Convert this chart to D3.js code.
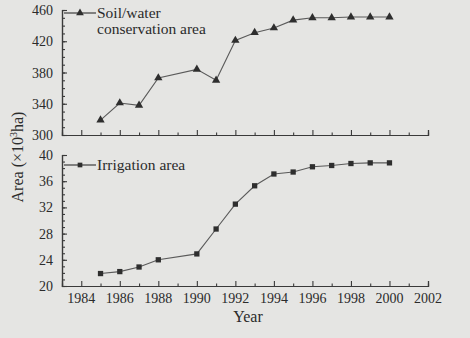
<!DOCTYPE html>
<html>
<head>
<meta charset="utf-8">
<script src="https://cdn.jsdelivr.net/npm/d3@7"></script>
<style>
  body { margin: 0; background: #e5e5e3; }
  svg { display: block; }
  text { font-family: "Liberation Serif", "DejaVu Serif", serif; fill: #2b2b2b; }
</style>
</head>
<body>
<svg id="chart"></svg>
<script>
// soil/water conservation area (10^3 ha), no point for 1989
const soilYears = [1985, 1986, 1987, 1988, 1990, 1991, 1992, 1993, 1994, 1995, 1996, 1997, 1998, 1999, 2000];
const soilValues = [319, 341, 338, 373, 384, 370, 421, 431, 437, 447, 450, 450, 451, 451, 451];

// irrigation area (10^3 ha)
const irrYears = [1985, 1986, 1987, 1988, 1990, 1991, 1992, 1993, 1994, 1995, 1996, 1997, 1998, 1999, 2000];
const irrValues = [21.9, 22.2, 22.9, 24.0, 24.9, 28.7, 32.5, 35.3, 37.1, 37.4, 38.2, 38.4, 38.7, 38.8, 38.8];

const xTicks = [1984, 1986, 1988, 1990, 1992, 1994, 1996, 1998, 2000, 2002];
const topTicks = [300, 340, 380, 420, 460];
const bottomTicks = [20, 24, 28, 32, 36, 40];

const width = 470, height = 338;
const svg = d3.select("#chart").attr("width", width).attr("height", height);

const ink = "#3a3a3a";
const x = d3.scaleLinear().domain([1983, 2002]).range([62, 428]);
const yTop = d3.scaleLinear().domain([300, 460]).range([135, 10]);
const yBot = d3.scaleLinear().domain([20, 40]).range([286, 155]);

function panel(y, ticks, minorStep, years, values, marker, showLabels) {
  const g = svg.append("g");
  // y axis, ticks inward
  const ya = d3.axisRight(y).tickValues(ticks).tickSize(5).tickFormat("");
  g.append("g").attr("transform", `translate(${x.range()[0]},0)`).call(ya);
  const minor = d3.range(y.domain()[0], y.domain()[1] + 0.001, minorStep);
  g.append("g").attr("transform", `translate(${x.range()[0]},0)`)
    .call(d3.axisRight(y).tickValues(minor).tickSize(3).tickFormat(""));
  // y labels
  g.selectAll(".ylab").data(ticks).join("text")
    .attr("x", 53).attr("y", d => y(d) + 5)
    .attr("text-anchor", "end").attr("font-size", 14).text(d => d);
  // x axis, ticks inward (up)
  const y0 = y.range()[0];
  g.append("g").attr("transform", `translate(0,${y0})`)
    .call(d3.axisTop(x).tickValues(xTicks).tickSize(5).tickFormat(""));
  g.append("g").attr("transform", `translate(0,${y0})`)
    .call(d3.axisTop(x).tickValues(d3.range(1985, 2002, 2)).tickSize(2.5).tickFormat(""));
  g.selectAll(".domain").attr("stroke", ink).attr("stroke-width", 1.2);
  g.selectAll(".tick line").attr("stroke", ink).attr("stroke-width", 1.1);
  if (showLabels) {
    g.selectAll(".xlab").data(xTicks).join("text")
      .attr("x", d => x(d)).attr("y", y0 + 17)
      .attr("text-anchor", "middle").attr("font-size", 14).text(d => d);
  }
  // series line
  const pts = years.map((yr, i) => [x(yr), y(values[i])]);
  g.append("path").attr("d", d3.line()(pts))
    .attr("fill", "none").attr("stroke", "#5a5a5a").attr("stroke-width", 1.1);
  g.selectAll(".pt").data(pts).join("path")
    .attr("transform", d => `translate(${d[0]},${d[1]})`)
    .attr("d", d3.symbol(marker, marker === d3.symbolTriangle ? 30 : 28)())
    .attr("fill", "#2e2e2e");
  return g;
}

panel(yTop, topTicks, 10, soilYears, soilValues, d3.symbolTriangle, false);
panel(yBot, bottomTicks, 1, irrYears, irrValues, d3.symbolSquare, true);

// legends
function legend(ly, marker, lines) {
  svg.append("line").attr("x1", 64).attr("x2", 96).attr("y1", ly).attr("y2", ly)
    .attr("stroke", "#4a4a4a").attr("stroke-width", 1.3);
  svg.append("path").attr("transform", `translate(80,${ly})`)
    .attr("d", d3.symbol(marker, marker === d3.symbolTriangle ? 26 : 22)())
    .attr("fill", "#2e2e2e");
  lines.forEach((t, i) => {
    svg.append("text").attr("x", 97).attr("y", ly + 5 + i * 16)
      .attr("font-size", 15.5).text(t);
  });
}
legend(13, d3.symbolTriangle, ["Soil/water", "conservation area"]);
legend(165, d3.symbolSquare, ["Irrigation area"]);

// axis titles
svg.append("text").attr("transform", "translate(23,157) rotate(-90)")
  .attr("text-anchor", "middle").attr("font-size", 16)
  .html("Area (×10<tspan dy='-6' font-size='10'>3</tspan><tspan dy='6'>ha)</tspan>");
svg.append("text").attr("x", 248).attr("y", 322)
  .attr("text-anchor", "middle").attr("font-size", 16).text("Year");
</script>
</body>
</html>
